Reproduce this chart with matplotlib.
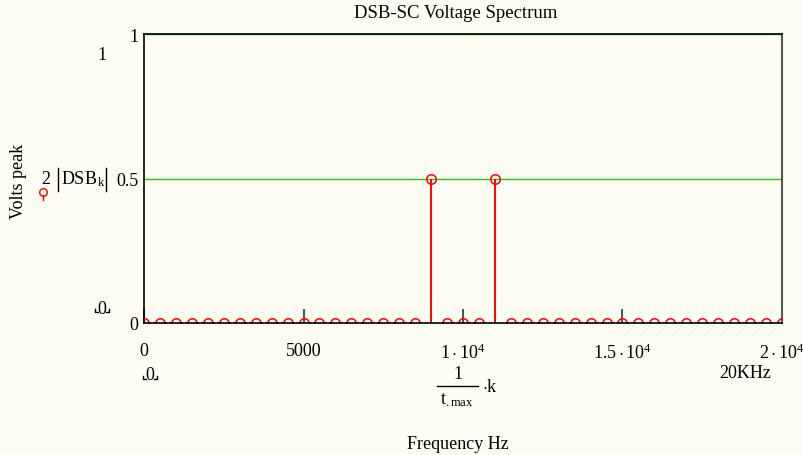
'''
DSB-SC voltage spectrum, Mathcad-style stem plot.
'''

import matplotlib
matplotlib.use('Agg')
import matplotlib.pyplot as plt
from matplotlib.lines import Line2D

# Spectrum lines: frequency (Hz) and 2|DSB_k| (volts peak)
freqs_hz = [0, 500, 1000, 1500, 2000, 2500, 3000, 3500, 4000, 4500,
            5000, 5500, 6000, 6500, 7000, 7500, 8000, 8500, 9000, 9500,
            10000, 10500, 11000, 11500, 12000, 12500, 13000, 13500, 14000,
            14500, 15000, 15500, 16000, 16500, 17000, 17500, 18000, 18500,
            19000, 19500, 20000]
volts_peak = [0, 0, 0, 0, 0, 0, 0, 0, 0, 0,
              0, 0, 0, 0, 0, 0, 0, 0, 0.5, 0,
              0, 0, 0.5, 0, 0, 0, 0, 0, 0,
              0, 0, 0, 0, 0, 0, 0, 0, 0,
              0, 0, 0]

x_ticks = [0, 5000, 10000, 15000, 20000]
x_tick_labels = ['0', '5000', r'$1\cdot10^{4}$', r'$1.5\cdot10^{4}$',
                 r'$2\cdot10^{4}$']
y_ticks = [0, 0.5, 1]
y_tick_labels = ['0', '0.5', '1']

W, H = 804, 456
BG = '#fefdf3'
RED = '#ff0000'
GREEN = '#10d010'
FS = 13


def fx(px):
    return px / W


def fy(py):
    return 1 - py / H


def fig_line(fig, xs, ys, **kw):
    '''Draw a line in figure pixel coordinates (top-left origin).'''
    fig.add_artist(Line2D([fx(v) for v in xs], [fy(v) for v in ys],
                          transform=fig.transFigure, **kw))


def corner_zero(fig, cx, cy):
    '''Mathcad limit placeholder: a "0" with small corner marks.'''
    fig.text(fx(cx), fy(cy), '0', ha='center', va='center', fontsize=FS)
    for side in (-1, 1):
        x0 = cx + side * 7
        fig_line(fig, [x0, x0, x0 - side * 3], [cy + 1, cy + 4, cy + 4],
                 color='black', linewidth=1)


def main() -> None:
    plt.rcParams['font.family'] = ['Liberation Serif', 'DejaVu Sans']
    plt.rcParams['mathtext.fontset'] = 'custom'
    plt.rcParams['mathtext.rm'] = 'Liberation Serif'
    plt.rcParams['mathtext.it'] = 'Liberation Serif:italic'
    plt.rcParams['font.size'] = FS

    fig = plt.figure(figsize=(W / 100, H / 100), dpi=100, facecolor=BG)
    ax = fig.add_axes([fx(144), fy(324), 638 / W, 289 / H])
    ax.set_facecolor(BG)

    # Horizontal grid lines at 0.5 and 1
    for yv in (0.5, 1.0):
        ax.axhline(yv, color=GREEN, linewidth=1, zorder=1)

    # Stems and markers
    ax.vlines(freqs_hz, 0, volts_peak, colors=RED, linewidth=1.4, zorder=2)
    ax.plot(freqs_hz, volts_peak, 'o', color=RED, markerfacecolor='none',
            markersize=6.8, markeredgewidth=1.1, zorder=3)

    ax.set_xlim(0, 20000)
    ax.set_ylim(0, 1)

    for side in ('left', 'bottom', 'top'):
        ax.spines[side].set_color('black')
        ax.spines[side].set_linewidth(1.2)
    ax.spines['right'].set_color('#555555')
    ax.spines['right'].set_linewidth(1.5)
    ax.spines['bottom'].set_zorder(4)

    ax.set_xticks(x_ticks)
    ax.set_xticklabels(x_tick_labels)
    ax.set_yticks(y_ticks)
    ax.set_yticklabels(y_tick_labels)
    ax.tick_params(axis='x', direction='in', length=10, width=1.2,
                   color='#333333', pad=14, labelsize=FS)
    ax.tick_params(axis='y', length=0, pad=4, labelsize=FS)

    # Title
    fig.text(fx(456), fy(13), 'DSB-SC Voltage Spectrum',
             ha='center', va='center', fontsize=13.5)

    # Y-axis labels
    fig.text(fx(19), fy(181), 'Volts peak', rotation=90,
             ha='center', va='center', fontsize=FS)
    fig.text(fx(46), fy(179), '2', ha='center', va='center', fontsize=FS)
    fig.text(fx(61), fy(179), r'$\mathrm{DSB}_{\,\mathrm{k}}$',
             ha='left', va='center', fontsize=FS)
    for bx in (58, 106):
        fig_line(fig, [bx, bx], [169, 192], color='black', linewidth=1)
    fig_line(fig, [43, 43], [196, 201], color=RED, linewidth=1)
    fig.add_artist(Line2D([fx(43)], [fy(193)], marker='o',
                          markersize=5.5, markerfacecolor='none',
                          markeredgecolor=RED, markeredgewidth=1,
                          transform=fig.transFigure))

    # Mathcad axis-limit placeholders
    fig.text(fx(102), fy(55), '1', ha='center', va='center', fontsize=FS)
    corner_zero(fig, 102, 309)
    corner_zero(fig, 150, 376)
    fig.text(fx(745), fy(374), '20KHz', ha='center', va='center',
             fontsize=FS)

    # X-axis expression: 1 / t.max * k, then the label
    fig.text(fx(458), fy(375), '1', ha='center', va='center', fontsize=FS)
    fig_line(fig, [437, 478], [387, 387], color='black', linewidth=1)
    fig.text(fx(457), fy(400), r'$\mathrm{t}_{.\mathrm{max}}$',
             ha='center', va='center', fontsize=FS)
    fig.text(fx(482), fy(388), r'$\cdot\mathrm{k}$', ha='left',
             va='center', fontsize=FS)
    fig.text(fx(458), fy(445), 'Frequency Hz', ha='center',
             va='center', fontsize=FS)

    fig.savefig('out.png', dpi=100, facecolor=BG)
    plt.close(fig)


if __name__ == '__main__':
    main()
